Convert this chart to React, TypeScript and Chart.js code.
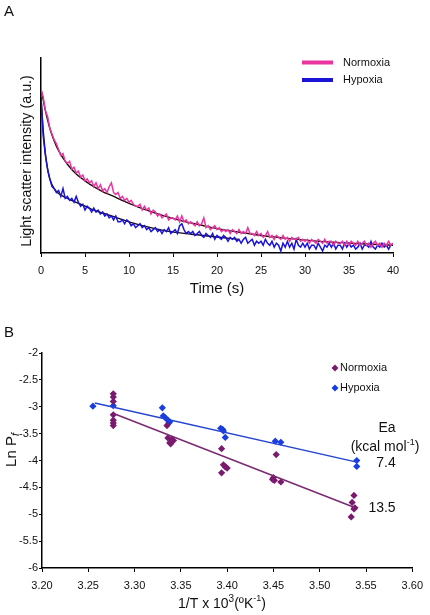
import React, { useEffect, useRef } from "react";
import { Chart, registerables } from "chart.js";

Chart.register(...registerables);

const FONT = '"Liberation Sans", Arial, sans-serif';

// ---------------- Panel A data ----------------
const sampleStepS = 0.25; // seconds between trace samples
const timeTicksA = { min: 0, max: 40, step: 5 };

// Light scatter intensity (a.u., 0-100 scale), one sample every 0.25 s from 0 to 40 s
const normoxiaTrace = [
  84, 80, 73, 70,
  64, 61, 58, 56,
  53, 50, 51, 47,
  46, 47, 43, 44,
  41, 42, 39, 40,
  37, 38, 36, 37,
  34, 36, 33, 35,
  32, 33, 31, 34,
  36, 31, 30, 31,
  28, 29, 27, 28,
  26, 27, 25, 24,
  24, 25, 22, 24,
  22, 23, 20, 22,
  21, 19, 20, 18,
  19, 20, 17, 18,
  18, 17, 19, 16,
  19, 16, 17, 15,
  16, 15, 14, 16,
  14, 15, 18, 13,
  14, 12, 13, 14,
  12, 13, 11, 12,
  11, 12, 10, 12,
  11, 10, 12, 10,
  11, 10, 13, 10,
  10, 9, 11, 9,
  10, 8, 9, 11,
  8, 9, 7, 9,
  8, 7, 9, 7,
  8, 6, 8, 7,
  7, 8, 6, 7,
  6, 7, 5, 7,
  6, 5, 7, 6,
  5, 7, 5, 6,
  6, 4, 6, 5,
  5, 6, 4, 6,
  4, 6, 5, 4,
  6, 4, 5, 6,
  4, 5, 3, 5,
  6, 4, 5, 3,
  5, 4, 6, 4,
  5,
];

const hypoxiaTrace = [
  80, 60, 50, 43,
  38, 34, 33, 31,
  32, 29, 33, 28,
  29, 27, 28, 26,
  29, 26, 24, 25,
  22, 24, 23, 21,
  23, 21, 22, 20,
  21, 19, 20, 18,
  19, 17, 19, 16,
  16, 17, 15, 17,
  16, 14, 15, 13,
  14, 15, 13, 14,
  12, 13, 11, 12,
  13, 11, 12, 10,
  12, 11, 13, 10,
  11, 12, 10, 14,
  15, 12, 10, 11,
  10, 11, 9, 10,
  11, 9, 8, 10,
  9, 8, 10, 7,
  9, 8, 7, 9,
  8, 6, 8, 7,
  8, 6, 7, 5,
  7, 8, 5, 6,
  7, 4, 6, 5,
  6, 4, 7, 5,
  4, 6, 3, 5,
  4, 1, 5, 3,
  6, 3, 5, 2,
  7, 4, 3, 5,
  3, 5, 2, 4,
  4, 2, 5, 3,
  1, 4, 3, 5,
  3, 5, 2, 4,
  4, 2, 5, 3,
  5, 3, 4, 2,
  3, 5, 2, 4,
  4, 3, 6, 3,
  2, 4, 3, 5,
  3, 4, 2, 4,
  5,
];

const normoxiaFitT = [0, 0.25, 0.5, 1, 1.5, 2, 3, 4, 5, 6, 7, 8, 10, 12, 14, 16, 18, 20, 22, 25, 28, 31, 34, 37, 40];
const normoxiaFitV = [84, 78.5, 73, 64, 57.5, 52.5, 45.5, 40.5, 37, 34, 31.5, 29.5, 25.5, 22, 19, 16.5, 14.5, 12.5, 11, 9, 7.5, 6.2, 5.3, 4.6, 4];

const hypoxiaFitT = [0, 0.25, 0.5, 0.75, 1, 1.5, 2, 3, 4, 5, 6, 7, 8, 10, 12, 14, 16, 18, 20, 22.5];
const hypoxiaFitV = [80, 63, 51, 43, 38, 33, 30.5, 28, 26, 24, 22, 20.5, 19, 16, 13.5, 11.5, 10.2, 9.2, 8.2, 7];

const legendALabels = ["Normoxia", "Hypoxia"];

// ---------------- Panel B data ----------------
const normoxiaInvT = [
  3.277, 3.277, 3.277, 3.277, 3.277, 3.277, 3.277,
  3.335, 3.336, 3.340, 3.342, 3.338, 3.339,
  3.394, 3.394, 3.396, 3.398, 3.400,
  3.449, 3.450, 3.451, 3.458, 3.453,
  3.537, 3.535, 3.537, 3.534, 3.538,
];
const normoxiaLnPf = [
  -2.76, -2.82, -2.90, -3.15, -3.25, -3.30, -3.35,
  -3.35, -3.58, -3.60, -3.63, -3.67, -3.69,
  -3.78, -4.23, -4.08, -4.12, -4.14,
  -4.35, -4.32, -4.37, -4.40, -3.89,
  -4.65, -4.78, -4.90, -5.05, -4.88,
];

const hypoxiaInvT = [
  3.255, 3.277, 3.330, 3.331, 3.333, 3.336, 3.337, 3.338,
  3.393, 3.395, 3.396, 3.398, 3.452, 3.458, 3.540, 3.540,
];
const hypoxiaLnPf = [
  -2.99, -2.98, -3.02, -3.17, -3.20, -3.25, -3.30, -3.28,
  -3.40, -3.42, -3.45, -3.57, -3.64, -3.66, -4.00, -4.11,
];

const normoxiaRegInvT = [3.278, 3.537];
const normoxiaRegLnPf = [-3.13, -4.87];
const hypoxiaRegInvT = [3.257, 3.54];
const hypoxiaRegLnPf = [-2.93, -4.03];

const legendBLabels = ["Normoxia", "Hypoxia"];
const eaValues = ["7.4", "13.5"]; // hypoxia, normoxia

// ---------------- colours ----------------
const PINK = "#e8359f";
const BLUE_A = "#1a14d6";
const FIT = "#1a0808";
const PURPLE = "#7a1a6e";
const PURPLE_LINE = "#7b2a72";
const BLUE_B = "#1a3de0";
const BLUE_LINE = "#2444d2";

type Part = { text: string; size: number; dy?: number; italic?: boolean };

function drawRich(ctx: CanvasRenderingContext2D, parts: Part[], cx: number, cy: number) {
  let w = 0;
  const widths: number[] = [];
  parts.forEach((p) => {
    ctx.font = `${p.italic ? "italic " : ""}${p.size}px ${FONT}`;
    const m = ctx.measureText(p.text).width;
    widths.push(m);
    w += m;
  });
  let x = cx - w / 2;
  ctx.textBaseline = "middle";
  ctx.textAlign = "left";
  parts.forEach((p, i) => {
    ctx.font = `${p.italic ? "italic " : ""}${p.size}px ${FONT}`;
    ctx.fillText(p.text, x, cy + (p.dy || 0));
    x += widths[i];
  });
}

const legendAPlugin = {
  id: "legendA",
  afterDraw(chart: any) {
    const ctx: CanvasRenderingContext2D = chart.ctx;
    const colors = [PINK, BLUE_A];
    const ys = [62.5, 80];
    ctx.save();
    legendALabels.forEach((label, i) => {
      ctx.fillStyle = colors[i];
      ctx.fillRect(302, ys[i] - 2, 31, 4);
      ctx.fillStyle = "#111";
      ctx.font = `11px ${FONT}`;
      ctx.textBaseline = "middle";
      ctx.textAlign = "left";
      ctx.fillText(label, 343, ys[i]);
    });
    // y-axis title
    ctx.translate(27, 161);
    ctx.rotate(-Math.PI / 2);
    ctx.fillStyle = "#111";
    drawRich(ctx, [{ text: "Light scatter intensity (a.u.)", size: 14.3 }], 0, 0);
    ctx.restore();
  },
};

const annotBPlugin = {
  id: "annotB",
  afterDraw(chart: any) {
    const ctx: CanvasRenderingContext2D = chart.ctx;
    ctx.save();
    // legend
    const colors = [PURPLE, BLUE_B];
    const ys = [68, 88];
    legendBLabels.forEach((label, i) => {
      ctx.fillStyle = colors[i];
      ctx.beginPath();
      ctx.moveTo(335, ys[i] - 3.5);
      ctx.lineTo(338.5, ys[i]);
      ctx.lineTo(335, ys[i] + 3.5);
      ctx.lineTo(331.5, ys[i]);
      ctx.closePath();
      ctx.fill();
      ctx.fillStyle = "#111";
      ctx.font = `11px ${FONT}`;
      ctx.textBaseline = "middle";
      ctx.textAlign = "left";
      ctx.fillText(label, 340, ys[i]);
    });
    // Ea annotation
    ctx.fillStyle = "#111";
    drawRich(ctx, [{ text: "Ea", size: 14 }], 387, 128);
    drawRich(
      ctx,
      [
        { text: "(kcal mol", size: 14 },
        { text: "-1", size: 9, dy: -4 },
        { text: ")", size: 14 },
      ],
      385,
      147
    );
    drawRich(ctx, [{ text: eaValues[0], size: 14 }], 386, 163);
    drawRich(ctx, [{ text: eaValues[1], size: 14 }], 382, 208);
    // x title
    drawRich(
      ctx,
      [
        { text: "1/T x 10", size: 14 },
        { text: "3", size: 10, dy: -5 },
        { text: "(ºK", size: 14 },
        { text: "-1", size: 9, dy: -5 },
        { text: ")", size: 14 },
      ],
      222,
      304
    );
    // y title
    ctx.translate(12, 150);
    ctx.rotate(-Math.PI / 2);
    drawRich(
      ctx,
      [
        { text: "Ln P", size: 15 },
        { text: "f", size: 11, dy: 4, italic: true },
      ],
      0,
      0
    );
    ctx.restore();
  },
};

function PanelA() {
  const ref = useRef<HTMLCanvasElement | null>(null);
  useEffect(() => {
    if (!ref.current) return;
    const chart = new Chart(ref.current, {
      type: "line",
      data: {
        datasets: [
          {
            label: "Normoxia",
            data: normoxiaTrace.map((v, i) => ({ x: i * sampleStepS, y: v })),
            borderColor: PINK,
            borderWidth: 1.5,
            pointRadius: 0,
          },
          {
            label: "Hypoxia",
            data: hypoxiaTrace.map((v, i) => ({ x: i * sampleStepS, y: v })),
            borderColor: BLUE_A,
            borderWidth: 1.5,
            pointRadius: 0,
          },
          {
            label: "Normoxia fit",
            data: normoxiaFitT.map((t, i) => ({ x: t, y: normoxiaFitV[i] })),
            borderColor: FIT,
            borderWidth: 1.4,
            pointRadius: 0,
            cubicInterpolationMode: "monotone",
          },
          {
            label: "Hypoxia fit",
            data: hypoxiaFitT.map((t, i) => ({ x: t, y: hypoxiaFitV[i] })),
            borderColor: FIT,
            borderWidth: 1.4,
            pointRadius: 0,
            cubicInterpolationMode: "monotone",
          },
        ],
      },
      options: {
        animation: false,
        responsive: false,
        maintainAspectRatio: false,
        layout: { padding: { left: 0, top: 58, right: 37, bottom: 0 } },
        plugins: { legend: { display: false }, tooltip: { enabled: false } },
        scales: {
          x: {
            type: "linear",
            min: timeTicksA.min,
            max: timeTicksA.max,
            ticks: { stepSize: timeTicksA.step, color: "#111", font: { family: FONT, size: 11 }, padding: 7, maxRotation: 0 },
            grid: { display: true, drawOnChartArea: false, tickLength: 4, color: "#000", lineWidth: 1 },
            border: { display: true, color: "#000", width: 1.5 },
            title: { display: true, text: "Time (s)", color: "#111", font: { family: FONT, size: 15 }, padding: { top: 0, bottom: 2 } },
            afterFit: (s: any) => {
              s.height = 47;
            },
          },
          y: {
            type: "linear",
            min: 0,
            max: 100,
            ticks: { display: false },
            grid: { display: false },
            border: { display: true, color: "#000", width: 1.5 },
            title: { display: false },
            afterFit: (s: any) => {
              s.width = 41;
            },
          },
        },
      } as any,
      plugins: [legendAPlugin],
    });
    return () => chart.destroy();
  }, []);
  return <canvas ref={ref} width={430} height={300} style={{ position: "absolute", left: 0, top: 0, width: 430, height: 300 }} />;
}

function PanelB() {
  const ref = useRef<HTMLCanvasElement | null>(null);
  useEffect(() => {
    if (!ref.current) return;
    const chart = new Chart(ref.current, {
      type: "scatter",
      data: {
        datasets: [
          {
            type: "line",
            label: "Normoxia regression",
            data: normoxiaRegInvT.map((x, i) => ({ x, y: normoxiaRegLnPf[i] })),
            borderColor: PURPLE_LINE,
            borderWidth: 1.5,
            pointRadius: 0,
          },
          {
            type: "line",
            label: "Hypoxia regression",
            data: hypoxiaRegInvT.map((x, i) => ({ x, y: hypoxiaRegLnPf[i] })),
            borderColor: BLUE_LINE,
            borderWidth: 1.5,
            pointRadius: 0,
          },
          {
            label: "Normoxia",
            data: normoxiaInvT.map((x, i) => ({ x, y: normoxiaLnPf[i] })),
            pointStyle: "rectRot",
            pointRadius: 3.6,
            backgroundColor: PURPLE,
            borderColor: PURPLE,
            borderWidth: 0,
          },
          {
            label: "Hypoxia",
            data: hypoxiaInvT.map((x, i) => ({ x, y: hypoxiaLnPf[i] })),
            pointStyle: "rectRot",
            pointRadius: 3.6,
            backgroundColor: BLUE_B,
            borderColor: BLUE_B,
            borderWidth: 0,
          },
        ],
      } as any,
      options: {
        animation: false,
        responsive: false,
        maintainAspectRatio: false,
        layout: { padding: { left: 0, top: 53, right: 12, bottom: 0 } },
        plugins: { legend: { display: false }, tooltip: { enabled: false } },
        scales: {
          x: {
            type: "linear",
            min: 3.2,
            max: 3.6,
            ticks: {
              stepSize: 0.05,
              color: "#111",
              font: { family: FONT, size: 11 },
              padding: 7,
              maxRotation: 0,
              autoSkip: false,
              callback: (v: any) => Number(v).toFixed(2),
            },
            grid: { display: true, drawOnChartArea: false, tickLength: 4, color: "#000", lineWidth: 1 },
            border: { display: true, color: "#000", width: 1.5 },
            afterFit: (s: any) => {
              s.height = 47;
            },
          },
          y: {
            type: "linear",
            min: -6,
            max: -2,
            ticks: {
              stepSize: 0.5,
              color: "#111",
              font: { family: FONT, size: 11 },
              padding: 1,
              callback: (v: any) => `${Math.round(Number(v) * 10) / 10}`,
            },
            grid: { display: true, drawOnChartArea: false, tickLength: 3, color: "#000", lineWidth: 1 },
            border: { display: true, color: "#000", width: 1.5 },
            afterFit: (s: any) => {
              s.width = 42;
            },
          },
        },
      } as any,
      plugins: [annotBPlugin],
    });
    return () => chart.destroy();
  }, []);
  return <canvas ref={ref} width={430} height={315} style={{ position: "absolute", left: 0, top: 300, width: 430, height: 315 }} />;
}

export default function App() {
  return (
    <div style={{ position: "fixed", left: 0, top: 0, width: 430, height: 615, background: "#fff", fontFamily: FONT }}>
      <PanelA />
      <PanelB />
      <div style={{ position: "absolute", left: 4, top: 3, fontSize: 15, color: "#111", lineHeight: "16px" }}>A</div>
      <div style={{ position: "absolute", left: 4, top: 324, fontSize: 15, color: "#111", lineHeight: "16px" }}>B</div>
    </div>
  );
}
